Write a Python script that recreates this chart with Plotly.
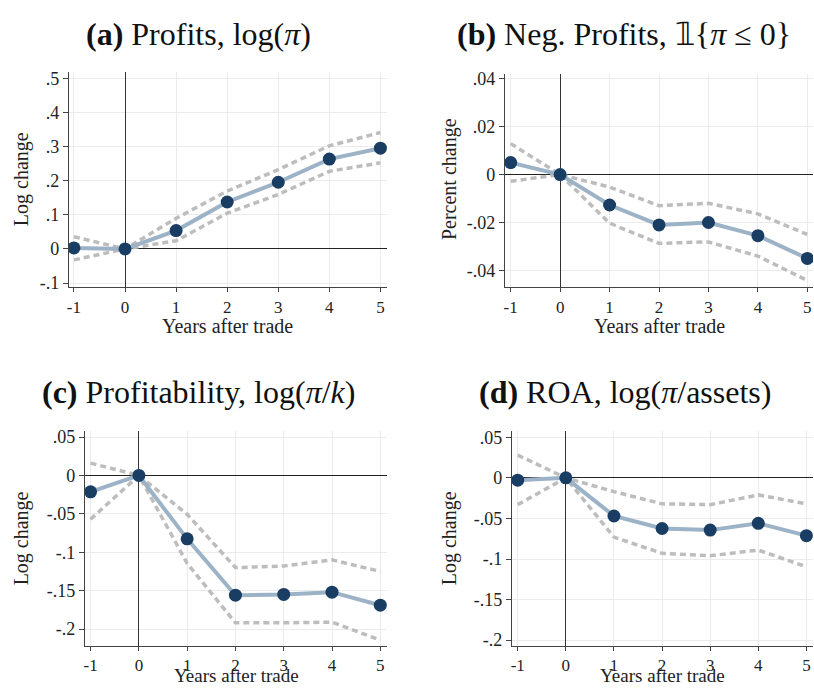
import plotly.graph_objects as go

W, H = 814, 693

years = [-1, 0, 1, 2, 3, 4, 5]

# Panel (a) Profits, log(pi)
a_est = [0.003, 0.0, 0.054, 0.138, 0.196, 0.264, 0.296]
a_hi = [0.036, 0.0, 0.090, 0.170, 0.233, 0.303, 0.342]
a_lo = [-0.032, 0.0, 0.024, 0.105, 0.160, 0.228, 0.253]

# Panel (b) Neg. profits
b_est = [0.005, 0.0, -0.0127, -0.021, -0.020, -0.0255, -0.035]
b_hi = [0.0129, 0.0, -0.0052, -0.013, -0.012, -0.0164, -0.025]
b_lo = [-0.0028, 0.0, -0.0203, -0.0287, -0.0281, -0.034, -0.0442]

# Panel (c) Profitability
c_est = [-0.0213, 0.0, -0.0826, -0.156, -0.155, -0.152, -0.169]
c_hi = [0.016, 0.0, -0.0506, -0.120, -0.118, -0.110, -0.125]
c_lo = [-0.057, 0.0, -0.1145, -0.192, -0.192, -0.191, -0.2145]

# Panel (d) ROA
d_est = [-0.0028, 0.0, -0.047, -0.0624, -0.0644, -0.056, -0.0712]
d_hi = [0.028, 0.0, -0.017, -0.032, -0.033, -0.021, -0.032]
d_lo = [-0.033, 0.0, -0.073, -0.093, -0.096, -0.089, -0.1095]

# tick labels
a_yticks = [-0.1, 0, 0.1, 0.2, 0.3, 0.4, 0.5]
a_ylabels = ["-.1", "0", ".1", ".2", ".3", ".4", ".5"]
b_yticks = [-0.04, -0.02, 0, 0.02, 0.04]
b_ylabels = ["-.04", "-.02", "0", ".02", ".04"]
c_yticks = [-0.2, -0.15, -0.1, -0.05, 0, 0.05]
c_ylabels = ["-.2", "-.15", "-.1", "-.05", "0", ".05"]
d_yticks = c_yticks
d_ylabels = c_ylabels
x_labels = ["-1", "0", "1", "2", "3", "4", "5"]

titles = [
    "<b>(a)</b> Profits, log(<i>π</i>)",
    "<b>(b)</b> Neg. Profits, 𝟙{<i>π</i> ≤ 0}",
    "<b>(c)</b> Profitability, log(<i>π</i>/<i>k</i>)",
    "<b>(d)</b> ROA, log(<i>π</i>/assets)",
]
ylabels = ["Log change", "Percent change", "Log change", "Log change"]
xlabel = "Years after trade"

# layout in pixels: (left, right, top, bottom)
boxes = [(67, 386, 68, 287), (504, 813, 70, 287), (83, 386, 433, 651), (511, 813, 433, 651)]
xranges = [[-1.1, 5.13], [-1.12, 5.115], [-1.12, 5.14], [-1.124, 5.137]]
yranges = [[-0.113, 0.52], [-0.0471, 0.042], [-0.2217, 0.0577], [-0.2068, 0.0576]]
title_pos = [(197, 29), (624, 29), (197, 393), (625, 393)]
ylab_pos = [(19, 177), (448, 177), (19, 542), (448, 542)]
# (x, y, anchor) for x-axis titles
xlab_pos = [(226, 326, "middle"), (659, 326, "middle"), (235, 693, "bottom"), (662, 693, "bottom")]

data = [(a_est, a_hi, a_lo), (b_est, b_hi, b_lo), (c_est, c_hi, c_lo), (d_est, d_hi, d_lo)]
yticks = [(a_yticks, a_ylabels), (b_yticks, b_ylabels), (c_yticks, c_ylabels), (d_yticks, d_ylabels)]

NAVY = "#1a3d63"
LINE = "#9cb2c6"
DASH = "#bdbdbd"
AXIS = "#444444"
GRID = "#ebebeb"
FONT = "Liberation Serif"

fig = go.Figure()
layout = dict(width=W, height=H, margin=dict(l=0, r=0, t=0, b=0),
              paper_bgcolor="white", plot_bgcolor="white", showlegend=False,
              font=dict(family=FONT, color="#222222"))
annotations = []

for i in range(4):
    n = "" if i == 0 else str(i + 1)
    xa, ya = "x" + n, "y" + n
    est, hi, lo = data[i]
    for band in (hi, lo):
        fig.add_trace(go.Scatter(x=years, y=band, mode="lines", xaxis=xa, yaxis=ya,
                                 line=dict(color=DASH, width=3.5, dash="6px,4px")))
    fig.add_trace(go.Scatter(x=years, y=est, mode="lines+markers", xaxis=xa, yaxis=ya,
                             line=dict(color=LINE, width=4),
                             marker=dict(color=NAVY, size=13)))
    l, r, t, b = boxes[i]
    layout["xaxis" + n] = dict(
        domain=[l / W, r / W], range=xranges[i], anchor=ya,
        tickvals=years, ticktext=x_labels, showgrid=True, gridcolor=GRID, gridwidth=1,
        zeroline=True, zerolinecolor="#333333", zerolinewidth=1,
        showline=True, linecolor=AXIS, linewidth=1, ticks="outside", ticklen=4,
        tickcolor=AXIS, tickfont=dict(size=17, family=FONT, color="#222222"), fixedrange=True)
    tv, tt = yticks[i]
    layout["yaxis" + n] = dict(
        domain=[1 - b / H, 1 - t / H], range=yranges[i], anchor=xa,
        tickvals=tv, ticktext=tt, showgrid=True, gridcolor=GRID, gridwidth=1,
        zeroline=True, zerolinecolor="#222222", zerolinewidth=1,
        showline=True, linecolor=AXIS, linewidth=1, ticks="outside", ticklen=5,
        tickcolor=AXIS, tickfont=dict(size=18, family=FONT, color="#222222"), fixedrange=True)
    tx, ty = title_pos[i]
    annotations.append(dict(text=titles[i], x=tx / W, y=1 - ty / H, xref="paper", yref="paper",
                            showarrow=False, xanchor="center", yanchor="middle",
                            font=dict(size=32, family=FONT, color="#111111")))
    lx, ly = ylab_pos[i]
    annotations.append(dict(text=ylabels[i], x=lx / W, y=1 - ly / H, xref="paper", yref="paper",
                            showarrow=False, xanchor="center", yanchor="middle", textangle=-90,
                            font=dict(size=20, family=FONT, color="#222222")))
    bx, by, anc = xlab_pos[i]
    annotations.append(dict(text=xlabel, x=bx / W, y=1 - by / H, xref="paper", yref="paper",
                            showarrow=False, xanchor="center", yanchor=anc, borderpad=0,
                            font=dict(size=19 if anc == "bottom" else 20, family=FONT,
                                      color="#222222")))

layout["annotations"] = annotations
fig.update_layout(**layout)
fig.write_html("out.html", config={"displayModeBar": False},
               post_script="document.body.style.margin='0';document.body.style.overflow='hidden';")
